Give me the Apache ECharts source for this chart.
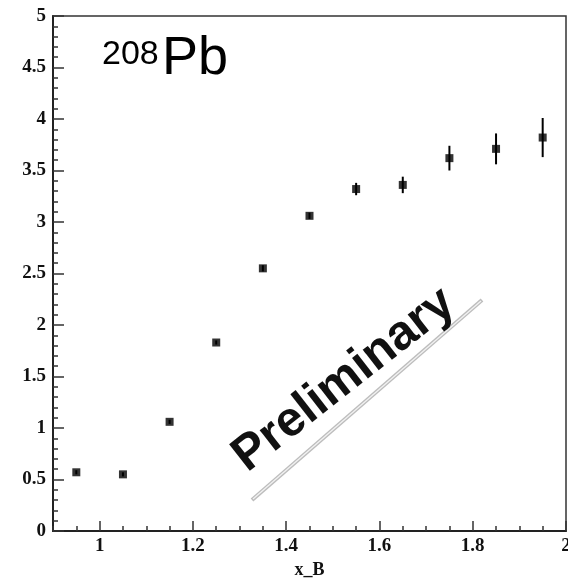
<!DOCTYPE html>
<html>
<head>
<meta charset="utf-8">
<script src="https://cdn.jsdelivr.net/npm/echarts@6/dist/echarts.min.js"></script>
<style>
  html, body { margin: 0; padding: 0; background: #fff; }
  #chart { width: 568px; height: 579px; }
</style>
</head>
<body>
<div id="chart"></div>
<script>
// x_B bin centres and measured ratio with statistical errors
const xB = [0.95, 1.05, 1.15, 1.25, 1.35, 1.45, 1.55, 1.65, 1.75, 1.85, 1.95];
const ratio = [0.57, 0.55, 1.06, 1.83, 2.55, 3.06, 3.32, 3.36, 3.62, 3.71, 3.82];
const ratioErr = [0.02, 0.02, 0.02, 0.02, 0.03, 0.03, 0.06, 0.08, 0.12, 0.15, 0.19];

// axis tick positions
const xMajorTicks = [1, 1.2, 1.4, 1.6, 1.8, 2];
const xMinorTicks = [0.9, 0.95, 1, 1.05, 1.1, 1.15, 1.2, 1.25, 1.3, 1.35, 1.4, 1.45,
                     1.5, 1.55, 1.6, 1.65, 1.7, 1.75, 1.8, 1.85, 1.9, 1.95, 2];

const points = xB.map((x, i) => [x, ratio[i]]);
const bars = xB.map((x, i) => [x, ratio[i] - ratioErr[i], ratio[i] + ratioErr[i]]);

const labelFont = {
  fontFamily: 'Liberation Serif',
  fontWeight: 'bold',
  fontSize: 19,
  color: '#111'
};

const chart = echarts.init(document.getElementById('chart'), null, { renderer: 'canvas' });

chart.setOption({
  animation: false,
  backgroundColor: '#fff',
  grid: {
    left: 53, right: 2, top: 16, bottom: 48,
    outerBoundsMode: 'none',
    containLabel: false,
    show: true,
    borderColor: '#333',
    borderWidth: 1.5,
    backgroundColor: 'transparent'
  },
  xAxis: [
    {
      type: 'value',
      min: 0.9, max: 2,
      position: 'bottom',
      name: 'x_B',
      nameLocation: 'middle',
      nameGap: 30,
      nameTextStyle: Object.assign({}, labelFont, { fontSize: 18 }),
      axisLine: { show: true, lineStyle: { color: '#222', width: 2 } },
      axisTick: { show: true, inside: true, length: 10, customValues: xMajorTicks,
                  lineStyle: { color: '#333', width: 1.5 } },
      axisLabel: Object.assign({ customValues: xMajorTicks, margin: 6 }, labelFont),
      splitLine: { show: false }
    },
    {
      type: 'value',
      min: 0.9, max: 2,
      position: 'bottom',
      axisLine: { show: false },
      axisTick: { show: true, inside: true, length: 5, customValues: xMinorTicks,
                  lineStyle: { color: '#333', width: 1.5 } },
      axisLabel: { show: false },
      splitLine: { show: false }
    }
  ],
  yAxis: {
    type: 'value',
    min: 0, max: 5, interval: 0.5,
    axisLine: { show: true, lineStyle: { color: '#222', width: 2 } },
    axisTick: { show: true, inside: true, length: 11, lineStyle: { color: '#333', width: 1.5 } },
    minorTick: { show: true, splitNumber: 5, length: 5, lineStyle: { color: '#333', width: 1.5 } },
    axisLabel: Object.assign({ margin: 7 }, labelFont),
    splitLine: { show: false }
  },
  series: [
    {
      type: 'custom',
      xAxisIndex: 0,
      data: bars,
      renderItem: function (params, api) {
        const lo = api.coord([api.value(0), api.value(1)]);
        const hi = api.coord([api.value(0), api.value(2)]);
        return {
          type: 'line',
          shape: { x1: lo[0], y1: lo[1], x2: hi[0], y2: hi[1] },
          style: { stroke: '#000', lineWidth: 2 }
        };
      },
      z: 3
    },
    {
      type: 'scatter',
      xAxisIndex: 0,
      data: points,
      symbol: 'rect',
      symbolSize: 8,
      itemStyle: { color: '#000' },
      z: 4
    }
  ],
  graphic: [
    {
      type: 'text',
      left: 102, top: 38,
      style: { text: '208', font: '34px "Liberation Sans"', fill: '#000' }
    },
    {
      type: 'text',
      left: 162, top: 32,
      style: { text: 'Pb', font: '54px "Liberation Sans"', fill: '#000' }
    },
    {
      type: 'line',
      shape: { x1: 252, y1: 500, x2: 482, y2: 300 },
      style: { stroke: '#bdbdbd', lineWidth: 4 }
    },
    {
      type: 'line',
      shape: { x1: 253, y1: 499, x2: 481, y2: 301 },
      style: { stroke: '#f2f2f2', lineWidth: 1.3 }
    },
    {
      type: 'text',
      x: 344, y: 380,
      rotation: 38 * Math.PI / 180,
      style: {
        text: 'Preliminary',
        font: 'bold 49px "Liberation Sans"',
        fill: '#111',
        align: 'center',
        verticalAlign: 'middle',
        shadowColor: 'rgba(0,0,0,0.75)',
        shadowBlur: 4,
        shadowOffsetX: 1,
        shadowOffsetY: 1
      }
    }
  ]
});
</script>
</body>
</html>
